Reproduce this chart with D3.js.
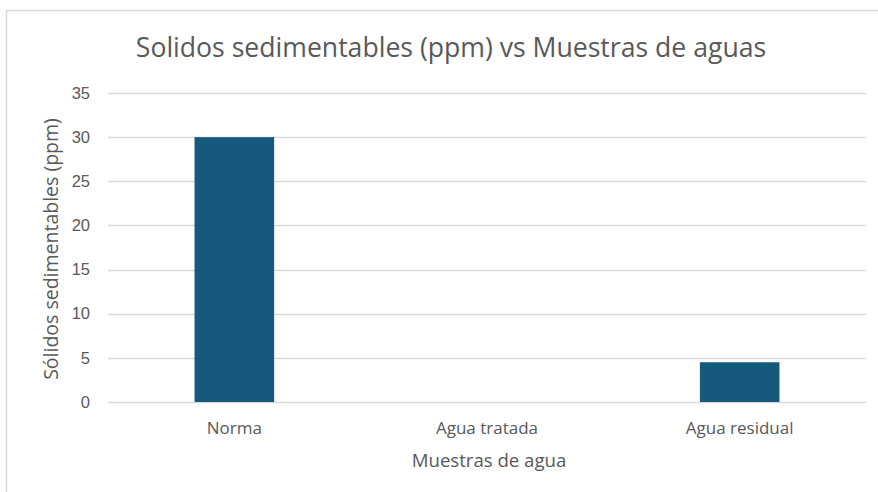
<!DOCTYPE html>
<html>
<head>
<meta charset="utf-8">
<script src="https://cdn.jsdelivr.net/npm/d3@7"></script>
<style>
  html, body { margin: 0; padding: 0; background: #fff; }
  svg { display: block; }
</style>
</head>
<body>
<svg id="chart" width="878" height="492"></svg>
<script>
// Sample categories and settleable solids (ppm)
const categories = ["Norma", "Agua tratada", "Agua residual"];
const values = [30, 0, 4.5];
const yTicks = [0, 5, 10, 15, 20, 25, 30, 35];
const title = "Solidos sedimentables (ppm) vs Muestras de aguas";
const yTitle = "Sólidos sedimentables (ppm)";
const xTitle = "Muestras de agua";

const svg = d3.select("#chart");
const W = 878, H = 492;
const plot = { left: 108, right: 866, top: 93, bottom: 402 };
const textFont = "'Open Sans', sans-serif";
const textColor = "#595959";

// chart frame
svg.append("rect")
  .attr("x", 6.5).attr("y", 10.5)
  .attr("width", W + 20).attr("height", H + 20)
  .attr("fill", "#fff").attr("stroke", "#d9d9d9").attr("stroke-width", 1.5);

const x = d3.scaleBand().domain(categories).range([plot.left, plot.right]).padding(0);
const y = d3.scaleLinear().domain([0, 35]).range([plot.bottom, plot.top]);

// gridlines
svg.append("g")
  .selectAll("line")
  .data(yTicks)
  .join("line")
  .attr("x1", plot.left).attr("x2", plot.right)
  .attr("y1", d => Math.round(y(d)) + 0.5).attr("y2", d => Math.round(y(d)) + 0.5)
  .attr("stroke", "#d9d9d9").attr("stroke-width", 1.3);

// y axis labels
const yAxis = d3.axisLeft(y).tickValues(yTicks).tickSize(0).tickPadding(18);
const gy = svg.append("g").attr("transform", `translate(${plot.left},0)`).call(yAxis);
gy.select(".domain").remove();
gy.selectAll("text")
  .attr("font-family", "'Liberation Sans', Arial, sans-serif")
  .attr("font-size", 16.5).attr("fill", textColor);

// bars
const barW = x.bandwidth() * 0.315;
svg.append("g")
  .selectAll("rect")
  .data(categories.map((c, i) => ({ c, v: values[i] })))
  .join("rect")
  .attr("x", d => x(d.c) + x.bandwidth() / 2 - barW / 2)
  .attr("y", d => y(d.v))
  .attr("width", barW)
  .attr("height", d => y(0) - y(d.v))
  .attr("fill", "#155a7c");

// x axis labels
const xAxis = d3.axisBottom(x).tickSize(0).tickPadding(0);
const gx = svg.append("g").attr("transform", `translate(0,${plot.bottom})`).call(xAxis);
gx.select(".domain").remove();
gx.selectAll("text")
  .attr("dy", null)
  .attr("y", 32)
  .attr("font-family", textFont)
  .attr("font-size", 17).attr("fill", textColor);

// titles
svg.append("text")
  .attr("x", 451).attr("y", 57)
  .attr("text-anchor", "middle")
  .attr("font-family", textFont)
  .attr("font-size", 26.6).attr("fill", textColor)
  .text(title);

svg.append("text")
  .attr("x", 489).attr("y", 467)
  .attr("text-anchor", "middle")
  .attr("font-family", textFont)
  .attr("font-size", 18.6).attr("fill", textColor)
  .text(xTitle);

svg.append("text")
  .attr("transform", "translate(58,249) rotate(-90)")
  .attr("text-anchor", "middle")
  .attr("font-family", textFont)
  .attr("font-size", 19.5).attr("fill", textColor)
  .text(yTitle);
</script>
</body>
</html>
